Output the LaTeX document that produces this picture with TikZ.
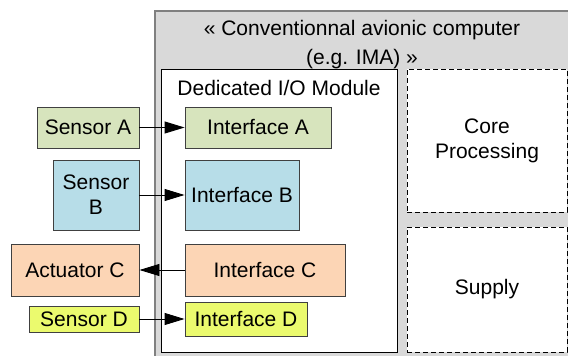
\documentclass[tikz,border=0pt]{standalone}
\usepackage{fontspec}
\setmainfont{Liberation Sans}
\usetikzlibrary{arrows.meta}
\definecolor{boxgreen}{HTML}{D7E4BD}
\definecolor{boxblue}{HTML}{B7DDE8}
\definecolor{boxorange}{HTML}{FCD5B5}
\definecolor{boxyellow}{HTML}{EBFA6E}
\definecolor{cardgray}{HTML}{D9D9D9}
\definecolor{edgegray}{HTML}{404040}

\begin{document}
\begin{tikzpicture}[x=1pt, y=-1pt, font=\fontsize{21}{25}\selectfont,
    unit/.style={draw=edgegray, line width=0.9pt, inner sep=0pt, align=center},
    slot/.style={draw=black, dash pattern=on 5pt off 3pt, line width=0.9pt, fill=white, inner sep=0pt, align=center},
    link/.style={line width=0.9pt, -{Triangle[length=20pt, width=12pt]}}]
  \useasboundingbox (0,0) rectangle (568,356);
  \clip (0,0) rectangle (568,356);
  % computer frame
  \node[draw=gray, line width=1.4pt, fill=cardgray, minimum width=425pt, minimum height=359pt, inner sep=0pt] (cpu) at (367.5,190.5) {};
  \node[align=center] (cpulabel) at (362,45) {« Conventionnal avionic computer\\[4pt](e.g. IMA) »};
  % I/O module
  \node[draw=black, line width=0.9pt, fill=white, minimum width=236pt, minimum height=283pt] (iom) at (279,210.5) {};
  \node (iomlabel) at (279,88) {Dedicated I/O Module};
  % other slots
  \node[slot, minimum width=160pt, minimum height=143pt] (core) at (487,140.5) {Core\\Processing};
  \node[slot, minimum width=160pt, minimum height=125pt] (supply) at (487,289.5) {Supply};
  % A
  \node[unit, fill=boxgreen, minimum width=102pt, minimum height=41pt] (sensA) at (88,127.5) {Sensor A};
  \node[unit, fill=boxgreen, minimum width=146pt, minimum height=41pt] (ifA) at (258,127.5) {Interface A};
  % B
  \node[unit, fill=boxblue, minimum width=86pt, minimum height=70pt] (sensB) at (96,195) {Sensor\\B};
  \node[unit, fill=boxblue, minimum width=114pt, minimum height=70pt] (ifB) at (242,195) {Interface B};
  % C
  \node[unit, fill=boxorange, minimum width=128pt, minimum height=52pt] (actC) at (75,270) {Actuator C};
  \node[unit, fill=boxorange, minimum width=160pt, minimum height=52pt] (ifC) at (265,270) {Interface C};
  % D
  \node[unit, fill=boxyellow, minimum width=110pt, minimum height=26pt] (sensD) at (84,319) {Sensor D};
  \node[unit, fill=boxyellow, minimum width=122pt, minimum height=34pt] (ifD) at (246,319) {Interface D};
  % signals
  \draw[link] (sensA) -- (ifA);
  \draw[link] (sensB) -- (ifB);
  \draw[link] (ifC) -- (actC);
  \draw[link] (sensD) -- (ifD);
\end{tikzpicture}
\end{document}
